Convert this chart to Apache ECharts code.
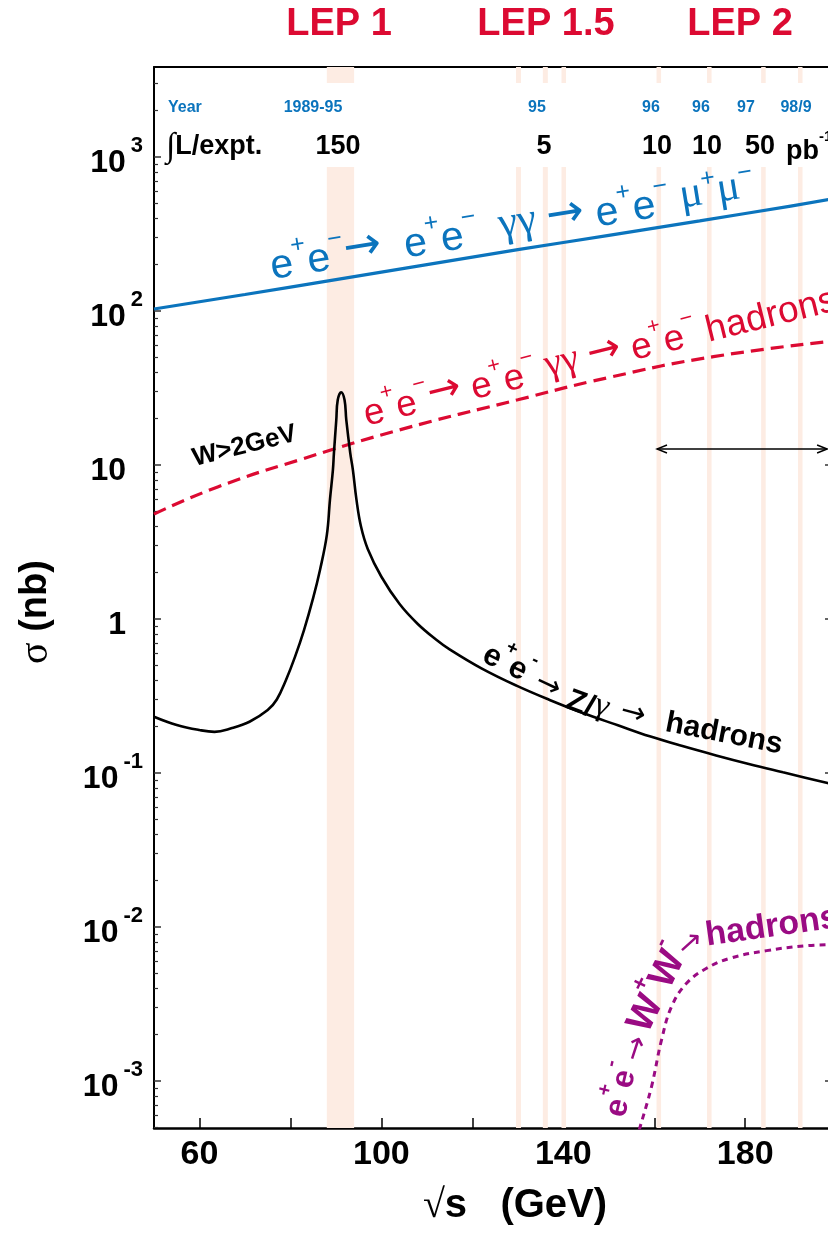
<!DOCTYPE html>
<html>
<head>
<meta charset="utf-8">
<script src="https://cdn.jsdelivr.net/npm/echarts@6/dist/echarts.min.js"></script>
<style>
  html, body { margin: 0; padding: 0; background: #ffffff; }
  #chart { width: 828px; height: 1233px; }
</style>
</head>
<body>
<div id="chart"></div>
<script>
// ---- axis ranges ----
const energyMin = 50, energyMax = 198.2;        // sqrt(s) in GeV
const sigmaMin = 4.95e-4, sigmaMax = 3840;      // cross-section in nb

const energyLabelValues = [60, 100, 140, 180];
const energyTickValues = [60, 80, 100, 120, 140, 160, 180];
const sigmaDecades = [1e-3, 1e-2, 1e-1, 1, 10, 100, 1000];

// ---- LEP running periods (energy ranges in GeV) ----
const bandLow  = [88, 129.6, 135.5, 139.6, 160.5, 171.6, 183.5, 191.6];
const bandHigh = [94, 130.7, 136.6, 140.6, 161.5, 172.6, 184.5, 192.6];

// ---- e+e- -> e+e- mu+mu- (two-photon) ----
const ggMuMuEnergy = [50, 70, 90, 110, 130, 150, 170, 190, 200];
const ggMuMuSigma  = [103, 128, 160, 200, 250, 310, 385, 480, 540];

// ---- e+e- -> e+e- hadrons (two-photon, W > 2 GeV) ----
const ggHadEnergy = [50, 64, 82, 104, 130, 150, 173, 200];
const ggHadSigma  = [4.8, 7.2, 10.8, 16.9, 26.5, 37, 50.5, 64];

// ---- e+e- -> Z/gamma -> hadrons ----
const zHadEnergy = [50, 55, 60, 63.3, 67, 71, 75, 77, 79, 81, 83, 85, 86.5, 88, 88.7, 89.34, 89.56, 90.08, 90.4,
                    91.15, 91.9, 92.28, 93.16, 93.73, 94.5, 95.5, 97, 100, 104, 108, 112, 115, 122, 129.7, 137,
                    144.3, 152, 159, 166, 173.6, 181, 188.3, 198.1, 200];
const zHadSigma  = [0.232, 0.205, 0.19, 0.185, 0.195, 0.215, 0.256, 0.30, 0.40, 0.567, 0.85, 1.37, 2.08, 3.5, 6.0,
                    9.3, 11.9, 19.6, 26.4, 29.7, 26.4, 19.6, 11.9, 9.3, 6.0, 4.0, 2.85, 1.88, 1.25, 0.928, 0.736,
                    0.635, 0.478, 0.369, 0.298, 0.245, 0.204, 0.173, 0.150, 0.130, 0.114, 0.101, 0.086, 0.0834];

// ---- e+e- -> W+W- -> hadrons ----
const wwHadEnergy = [156, 156.8, 159.4, 161.6, 163.8, 167.1, 171.5, 176.6, 184.7, 193.5, 200];
const wwHadSigma  = [4.1e-4, 4.93e-4, 9.2e-4, 1.85e-3, 3.04e-3, 4.31e-3, 5.39e-3, 6.26e-3, 7.02e-3, 7.56e-3, 7.7e-3];

// ---- WW threshold arrow ----
const arrowFrom = 160.6, arrowTo = 198, arrowSigma = 12.7;

// ---- header rows ----
const periodNames = ['LEP 1', 'LEP 1.5', 'LEP 2'];
const yearLabels = ['1989-95', '95', '96', '96', '97', '98/9'];
const lumiLabels = ['150', '5', '10', '10', '50'];

const BLUE = '#0b74bd', RED = '#dc0a32', PURPLE = '#9a0b83', BAND = '#fdece3';
const SANS = '"Liberation Sans", Arial, Helvetica, sans-serif';
const SERIF = '"Liberation Serif", "DejaVu Serif", serif';
const ARROWF = '"DejaVu Sans", sans-serif';

function pairs(xs, ys) { return xs.map((x, i) => [x, ys[i]]); }

// minor ticks of the log axis: 2..9 times each power of ten
const minorTicks = [];
for (let n = -4; n <= 3; n++) {
  for (let k = 2; k <= 9; k++) {
    const v = k * Math.pow(10, n);
    if (v > sigmaMin && v < sigmaMax) minorTicks.push(v);
  }
}

const chart = echarts.init(document.getElementById('chart'), null, { renderer: 'canvas' });

const yLabelRich = {
  b:   { fontSize: 32, fontWeight: 'bold', fontFamily: SANS, color: '#000', lineHeight: 44, verticalAlign: 'bottom' },
  s:   { fontSize: 22, fontWeight: 'bold', fontFamily: SANS, color: '#000', lineHeight: 8, verticalAlign: 'top', padding: [0, 0, 0, 5] },
  pad: { width: 17, lineHeight: 44 }
};

const option = {
  animation: false,
  backgroundColor: '#ffffff',
  grid: { left: 154, top: 67, right: 0, bottom: 105, containLabel: false, outerBoundsMode: 'none' },
  xAxis: [
    {
      type: 'value', min: energyMin, max: energyMax,
      axisLine: { show: true, onZero: false, lineStyle: { color: '#000', width: 2.5 } },
      axisTick: { show: true, inside: true, length: 10, customValues: energyTickValues, lineStyle: { color: '#000', width: 1.5 } },
      axisLabel: { show: true, customValues: energyLabelValues, margin: 10, fontSize: 34, fontWeight: 'bold', fontFamily: SANS, color: '#000' },
      splitLine: { show: false }
    },
    {
      type: 'value', min: energyMin, max: energyMax, position: 'top',
      axisLine: { show: true, onZero: false, lineStyle: { color: '#000', width: 2 } },
      axisTick: { show: false }, axisLabel: { show: false }, splitLine: { show: false }
    }
  ],
  yAxis: [
    {
      type: 'log', logBase: 10, min: sigmaMin, max: sigmaMax, position: 'left',
      axisLine: { show: true, onZero: false, lineStyle: { color: '#000', width: 2 } },
      axisTick: { show: true, inside: true, length: 7, customValues: sigmaDecades, lineStyle: { color: '#333', width: 1.5 } },
      axisLabel: {
        show: true, customValues: sigmaDecades, margin: 11, align: 'right',
        formatter: function (v) {
          const n = Math.round(Math.log10(v));
          if (n === 0) return '{b|1}{pad| }';
          if (n === 1) return '{b|10}{pad| }';
          return '{b|10}{s|' + n + '}';
        },
        rich: yLabelRich
      },
      splitLine: { show: false }
    },
    {
      type: 'log', logBase: 10, min: sigmaMin, max: sigmaMax, position: 'left', offset: 0,
      axisLine: { show: false },
      axisTick: { show: true, inside: true, length: 4, customValues: minorTicks, lineStyle: { color: '#333', width: 1.2 } },
      axisLabel: { show: false }, splitLine: { show: false }
    },
    {
      type: 'log', logBase: 10, min: sigmaMin, max: sigmaMax, position: 'right', offset: 0,
      axisLine: { show: false },
      axisTick: { show: true, inside: true, length: 3, customValues: sigmaDecades, lineStyle: { color: '#333', width: 1.5 } },
      axisLabel: { show: false }, splitLine: { show: false }
    }
  ],
  series: [
    {
      name: 'LEP running', type: 'custom', z: 1, silent: true,
      data: bandLow.map((lo, i) => [lo, bandHigh[i]]),
      encode: { x: 0 },
      renderItem: function (params, api) {
        const p0 = api.coord([api.value(0), sigmaMax]);
        const p1 = api.coord([api.value(1), sigmaMin]);
        return { type: 'rect', shape: { x: p0[0], y: p0[1], width: p1[0] - p0[0], height: p1[1] - p0[1] }, style: { fill: BAND } };
      }
    },
    {
      name: 'ee -> ee mumu', type: 'line', showSymbol: false, smooth: true, silent: true,
      data: pairs(ggMuMuEnergy, ggMuMuSigma),
      lineStyle: { color: BLUE, width: 3.2 }
    },
    {
      name: 'ee -> ee hadrons', type: 'line', showSymbol: false, smooth: true, silent: true,
      data: pairs(ggHadEnergy, ggHadSigma),
      lineStyle: { color: RED, width: 3.2, type: [13, 7] }
    },
    {
      name: 'ee -> Z/gamma -> hadrons', type: 'line', showSymbol: false, smooth: 0.4, silent: true,
      data: pairs(zHadEnergy, zHadSigma),
      lineStyle: { color: '#000', width: 2.6 }
    },
    {
      name: 'ee -> WW -> hadrons', type: 'line', showSymbol: false, smooth: 0.4, silent: true,
      data: pairs(wwHadEnergy, wwHadSigma),
      lineStyle: { color: PURPLE, width: 3, type: [6, 5] }
    }
  ]
};

chart.setOption(option);

// ---------- annotations ----------
function txt(x, y, text, style, rot) {
  return {
    type: 'text', x: x, y: y, z: 20, silent: true,
    rotation: (rot || 0) * Math.PI / 180,
    style: Object.assign({ text: text, align: 'center', verticalAlign: 'middle' }, style)
  };
}

function reactionRich(color, size, weight, supSize, raise, arrowSize) {
  return {
    t: { fontSize: size, fontWeight: weight, fontFamily: SANS, fill: color, lineHeight: size + 10, verticalAlign: 'bottom' },
    u: { fontSize: supSize, fontWeight: weight, fontFamily: SANS, fill: color, lineHeight: size + 10 - 2 * raise, verticalAlign: 'top' },
    a: { fontSize: arrowSize || size, fontFamily: ARROWF, fill: color, lineHeight: size + 10 },
    g: { fontSize: size + 2, fontFamily: SERIF, fill: color, lineHeight: size + 10 }
  };
}

const elements = [];

// white panel behind the header rows
elements.push({ type: 'rect', z: 10, silent: true, shape: { x: 163, y: 83, width: 680, height: 84 }, style: { fill: '#ffffff' } });

// LEP period names
const periodX = [339, 546, 740];
periodNames.forEach((t, i) => elements.push(txt(periodX[i], 25, t, { fill: RED, fontSize: 38, fontWeight: 'bold', fontFamily: SANS })));

// Year row
elements.push(txt(168, 107.5, 'Year', { fill: BLUE, fontSize: 16, fontWeight: 'bold', fontFamily: SANS, align: 'left' }));
const yearX = [313, 537, 651, 701, 746, 796];
yearLabels.forEach((t, i) => elements.push(txt(yearX[i], 107.5, t, { fill: BLUE, fontSize: 16, fontWeight: 'bold', fontFamily: SANS })));

// integrated luminosity row
elements.push(txt(166, 147, '{i|∫}{b|L/expt.}', {
  align: 'left',
  rich: {
    i: { fontSize: 34, fontFamily: SERIF, fill: '#000', lineHeight: 40 },
    b: { fontSize: 27, fontWeight: 'bold', fontFamily: SANS, fill: '#000', lineHeight: 40 }
  }
}));
const lumiX = [338, 544, 657, 707, 760];
lumiLabels.forEach((t, i) => elements.push(txt(lumiX[i], 147, t, { fill: '#000', fontSize: 27, fontWeight: 'bold', fontFamily: SANS })));
elements.push(txt(786, 147, '{b|pb}{s|-1}', {
  align: 'left',
  rich: {
    b: { fontSize: 27, fontWeight: 'bold', fontFamily: SANS, fill: '#000', lineHeight: 36, verticalAlign: 'bottom' },
    s: { fontSize: 15, fontWeight: 'bold', fontFamily: SANS, fill: '#000', lineHeight: 8, verticalAlign: 'top' }
  }
}));

// two-photon muon pair label
elements.push(txt(270, 263, '{t|e}{u|+}{t|e}{u|−}{a|→}{t|  e}{u|+}{t|e}{u|−}{g|  γγ }{a|→}{t| e}{u|+}{t|e}{u|−}{g| μ}{u|+}{g|μ}{u|−}',
  { align: 'left', rich: reactionRich(BLUE, 41, 'normal', 25, 18, 45) }, 9.2));

// two-photon hadrons label
elements.push(txt(363, 411, '{t|e}{u|+}{t|e}{u|−}{a|→}{t| e}{u|+}{t|e}{u|−}{g| γγ }{a|→}{t| e}{u|+}{t|e}{u|−}{t| hadrons}',
  { align: 'left', rich: reactionRich(RED, 37, 'normal', 22, 17, 40) }, 13.8));

elements.push(txt(193, 459, 'W>2GeV', { align: 'left', fill: '#000', fontSize: 26, fontWeight: 'bold', fontFamily: SANS }, 14));

// Z/gamma -> hadrons label, following the curve
const zRich = reactionRich('#000', 31, 'bold', 19, 15, 30);
elements.push(txt(510, 660, '{t|e}{u|+}{t|e}{u|-}', { rich: zRich }, -26));
elements.push(txt(548, 686, '{a|→}', { rich: zRich }, -25));
elements.push(txt(589, 702, '{t|Z/}{g|γ}', { rich: zRich }, -20));
elements.push(txt(633, 714, '{a|→}', { rich: zRich }, -15));
elements.push(txt(724, 734, 'hadrons', { fill: '#000', fontSize: 30, fontWeight: 'bold', fontFamily: SANS }, -11));

// W+W- -> hadrons label, following the curve
const wRich = reactionRich(PURPLE, 32, 'bold', 20, 15, 30);
const wRichBig = reactionRich(PURPLE, 38, 'bold', 23, 18);
elements.push(txt(617, 1089, '{t|e}{u|+}{t|e}{u|-}', { rich: wRich }, 77));
elements.push(txt(637, 1049, '{a|→}', { rich: wRich }, 72));
elements.push(txt(654, 986, '{t|W}{u|+}{t|W}{u|-}', { rich: wRichBig }, 64));
elements.push(txt(691, 944, '{a|→}', { rich: wRich }, 42));
elements.push(txt(772, 927, 'hadrons', { fill: PURPLE, fontSize: 34, fontWeight: 'bold', fontFamily: SANS }, 8));

// axis titles
elements.push(txt(36, 612, '{g|σ}{b| (nb)}', {
  rich: {
    g: { fontSize: 40, fontFamily: SERIF, fill: '#000', lineHeight: 46 },
    b: { fontSize: 38, fontWeight: 'bold', fontFamily: SANS, fill: '#000', lineHeight: 46 }
  }
}, 90));
elements.push(txt(515, 1206, '{r|√}{b|s   (GeV)}', {
  rich: {
    r: { fontSize: 40, fontFamily: SERIF, fill: '#000', lineHeight: 46 },
    b: { fontSize: 40, fontWeight: 'bold', fontFamily: SANS, fill: '#000', lineHeight: 46 }
  }
}));

// WW threshold arrow
const pA = chart.convertToPixel({ xAxisIndex: 0, yAxisIndex: 0 }, [arrowFrom, arrowSigma]);
const pB = chart.convertToPixel({ xAxisIndex: 0, yAxisIndex: 0 }, [arrowTo, arrowSigma]);
const arrowStyle = { stroke: '#000', lineWidth: 1.4, fill: null };
elements.push({ type: 'line', z: 20, silent: true, shape: { x1: pA[0], y1: pA[1], x2: pB[0], y2: pB[1] }, style: arrowStyle });
elements.push({ type: 'polyline', z: 20, silent: true, shape: { points: [[pA[0] + 10, pA[1] - 4], [pA[0], pA[1]], [pA[0] + 10, pA[1] + 4]] }, style: arrowStyle });
elements.push({ type: 'polyline', z: 20, silent: true, shape: { points: [[pB[0] - 10, pB[1] - 4], [pB[0], pB[1]], [pB[0] - 10, pB[1] + 4]] }, style: arrowStyle });

chart.setOption({ graphic: { elements: elements } });
</script>
</body>
</html>
